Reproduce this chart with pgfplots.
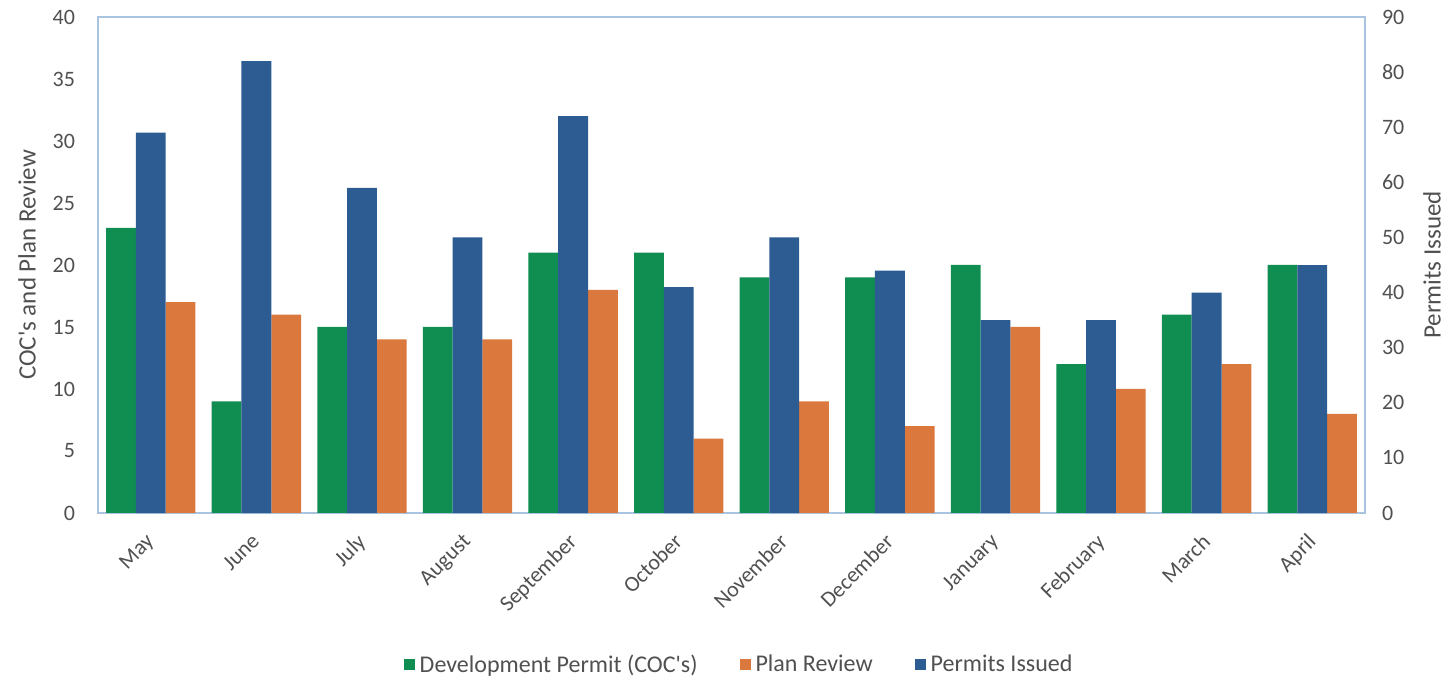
\documentclass[border=0pt]{standalone}
\usepackage{pgfplots}
\usepackage{pgfplotstable}
\pgfplotsset{compat=1.18}
\usepackage{fontspec}
\setmainfont{Carlito}[Ligatures=TeXOff]
\definecolor{cgreen}{RGB}{16,142,82}
\definecolor{cblue}{RGB}{44,92,146}
\definecolor{corange}{RGB}{218,120,62}
\definecolor{cborder}{RGB}{170,196,224}
\definecolor{ctext}{RGB}{80,80,80}

\pgfplotstableread{
x green orange blue
0 23 17 69
1 9 16 82
2 15 14 59
3 15 14 50
4 21 18 72
5 21 6 41
6 19 9 50
7 19 7 44
8 20 15 35
9 12 10 35
10 16 12 40
11 20 8 45
}\datatable

\begin{document}
\begin{tikzpicture}
\useasboundingbox (0,0) rectangle (724pt,340.5pt);
\pgfplotsset{
  base/.style={
    at={(49pt,84pt)}, anchor=south west,
    width=633.5pt, height=248pt, scale only axis,
    xmin=-0.5, xmax=11.5,
    ybar, bar width=0.282,
    major tick length=0pt,
    axis line style={draw=cborder, line width=0.8pt},
    tick label style={font=\fontsize{11}{13}\selectfont, text=ctext},
    label style={font=\fontsize{12.5}{14}\selectfont, text=ctext},
    /pgf/number format/assume math mode=true,
  }
}
\begin{axis}[base,
  ymin=0, ymax=40, ytick={0,5,...,40},
  xtick={0,...,11},
  xticklabels={May,June,July,August,September,October,November,December,January,February,March,April},
  xticklabel style={xshift=-3pt, yshift=-9.5pt, rotate=45, anchor=north east, inner sep=0pt},
  yticklabel style={xshift=-8pt},
  ylabel={COC's and Plan Review},
  ylabel style={at={(axis description cs:-0.056,0.5)}, anchor=center},
]
\addplot[fill=cgreen, draw=none, bar shift=-0.282] table[x=x,y=green]{\datatable};
\addplot[fill=corange, draw=none, bar shift=0.282] table[x=x,y=orange]{\datatable};
\end{axis}
\begin{axis}[base,
  axis x line=none, axis y line*=right,
  ymin=0, ymax=90, ytick={0,10,...,90},
  yticklabel style={xshift=5pt},
  ylabel={Permits Issued},
  ylabel style={at={(axis description cs:1.053,0.5)}, anchor=center},
  legend style={at={(0.506,-0.306)}, anchor=center, draw=none, fill=none,
    font=\fontsize{12}{14}\selectfont, text=ctext, legend columns=3,
    nodes={inner sep=1pt},
    /tikz/every odd column/.append style={column sep=1.5pt},
    /tikz/every even column/.append style={column sep=20pt}},
  legend image code/.code={\fill[#1] (0pt,-2.75pt) rectangle (5.5pt,2.75pt);},
]
\addlegendimage{fill=cgreen, draw=none}
\addlegendentry{Development Permit (COC's)}
\addlegendimage{fill=corange, draw=none}
\addlegendentry{Plan Review}
\addplot[fill=cblue, draw=none, bar shift=0] table[x=x,y=blue]{\datatable};
\addlegendentry{Permits Issued}
\end{axis}
\end{tikzpicture}
\end{document}
